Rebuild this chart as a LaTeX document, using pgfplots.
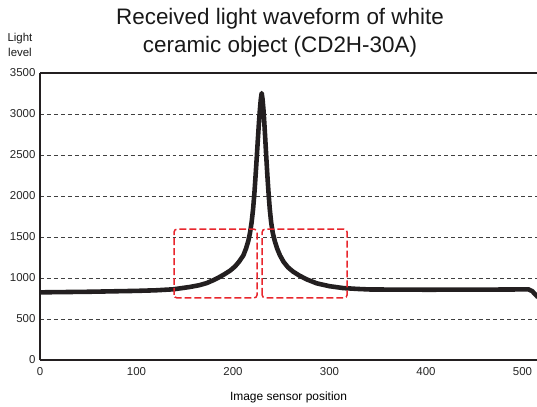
\documentclass[border=0pt]{standalone}
\usepackage{pgfplots}
\pgfplotsset{compat=1.18}
\usepackage{fontspec}
\setmainfont{Liberation Sans}
\definecolor{curve}{HTML}{231F20}
\definecolor{boxred}{HTML}{E8262D}
\begin{document}
\begin{tikzpicture}
\begin{axis}[
  at={(0,0)}, anchor=south west,
  scale only axis, width=497bp, height=287bp,
  xmin=0, xmax=515, ymin=0, ymax=3500,
  axis lines*=left,
  axis line style={line width=1.8pt, color=curve},
  xtick={0,100,200,300,400,500},
  ytick={0,500,1000,1500,2000,2500,3000,3500},
  major tick length=0pt,
  ymajorgrids,
  major grid style={dash pattern=on 4pt off 3pt, line width=0.8pt, color=black!75},
  /pgf/number format/assume math mode=true,
  /pgf/number format/1000 sep={},
  tick label style={font=\fontsize{11.5}{13}\selectfont, color=black!85},
  yticklabel style={xshift=-1pt},
  xticklabel style={yshift=-4pt},
  xlabel={Image sensor position},
  xlabel style={font=\fontsize{12}{14}\selectfont, yshift=-9pt},
  clip=false,
]
\addplot[line width=4.6pt, color=curve, line join=round, line cap=butt] coordinates {
(0,825) (50,832) (100,843) (120,850) (138,862) (155,890) (165,912) (172.7,938) (180,975) (185,1005) (191,1045) (197,1090) (202,1140) (206,1195) (210.7,1275) (213.5,1360) (215.8,1450) (217.6,1550) (219.3,1680) (220.8,1840) (222.2,2040) (223.4,2250) (224.6,2470) (225.8,2700) (226.9,2900) (227.9,3060) (228.8,3180) (229.7,3255)
(230.6,3180) (231.5,3060) (232.4,2900) (233.4,2700) (234.5,2470) (235.6,2250) (236.8,2040) (238.1,1840) (239.5,1680) (241.2,1550) (243.3,1450) (245.7,1360) (248.7,1275) (252.5,1195) (257,1130) (262,1080) (268,1035) (276,985) (286.7,935) (300,900) (314.3,877) (330,866) (342,860) (400,857) (450,858) (490,860) (506,862) (510,840) (516,765)
};
\draw[boxred, line width=1.5pt, dash pattern=on 7pt off 3pt, rounded corners=3pt]
  (axis cs:138.9,757) rectangle (axis cs:224.9,1596);
\draw[boxred, line width=1.5pt, dash pattern=on 7pt off 3pt, rounded corners=3pt]
  (axis cs:230.2,757) rectangle (axis cs:318.2,1596);
\draw[line width=1.8pt, color=curve] (rel axis cs:0,1) -- (rel axis cs:1.05,1);
\draw[line width=1.8pt, color=curve] (rel axis cs:1,0) -- (rel axis cs:1.05,0);
\end{axis}
\node[align=center, font=\fontsize{22.5}{28}\selectfont, color=black!90] at (240bp,327bp)
  {Received light waveform of white\\ceramic object (CD2H-30A)};
\node[align=center, font=\fontsize{11.5}{14.5}\selectfont, color=black!90] at (-20bp,315bp)
  {Light\\level};
\pgfresetboundingbox
\path[use as bounding box] (-40bp,-47bp) rectangle (497bp,360bp);
\end{tikzpicture}
\end{document}
